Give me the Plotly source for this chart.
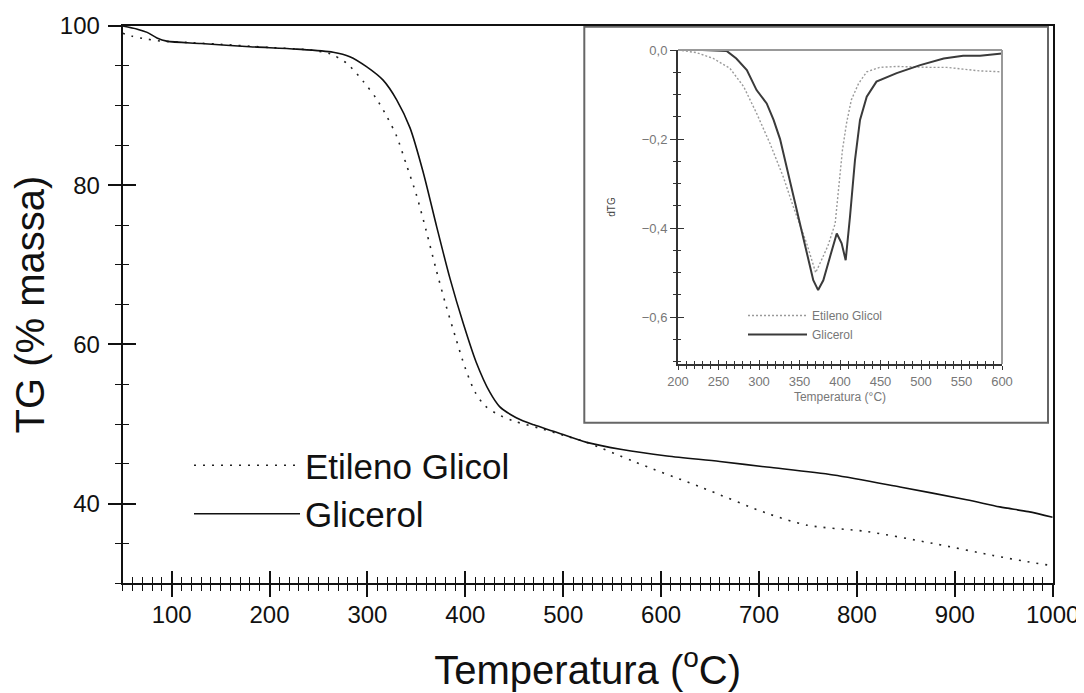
import plotly.graph_objects as go

# ---------------- data ----------------
# Main TG curves (temperature in °C, mass %)
gli_T = [50, 65, 75, 85, 95, 130, 180, 228, 265, 282, 299, 316, 330, 343.5, 357, 370.7,
         384.3, 398, 411, 425, 435, 452, 470, 490, 524, 560, 606, 660, 708, 776,
         844, 912, 946, 975, 1000]
gli_TG = [100.0, 99.6, 99.2, 98.5, 98.1, 97.8, 97.4, 97.1, 96.7, 96.15, 94.9, 93.2, 90.7,
          87.2, 81.6, 74.8, 68.3, 62.6, 57.8, 54.0, 52.2, 50.8, 49.9, 49.1, 47.7, 46.8,
          46.0, 45.3, 44.6, 43.6, 42.1, 40.5, 39.6, 39.0, 38.3]

eg_T = [50, 60, 70, 90, 120, 150, 200, 240, 262, 279, 296, 309, 320, 330, 340, 350, 360,
        370, 380, 390, 400, 410, 420, 432, 449, 475, 500, 524, 572, 640, 708, 749, 810,
        878, 939, 970, 1000]
eg_TG = [99.1, 98.7, 98.45, 98.1, 97.9, 97.7, 97.3, 97.0, 96.5, 95.3, 93.0, 90.9, 88.6,
         86.1, 82.5, 78.8, 74.3, 69.5, 65.0, 60.9, 57.0, 54.0, 52.3, 51.3, 50.4, 49.5,
         48.6, 47.7, 45.3, 42.1, 38.8, 37.3, 36.5, 35.0, 33.5, 32.8, 32.2]

# Inset dTG curves
ins_gli_T = [200, 230, 260, 272, 285, 297, 309.5, 318, 326, 334, 342.4, 350.6, 358.8, 367,
             373, 379.4, 387.7, 396, 402, 407, 412.3, 418.5, 424.7, 433, 445, 470, 499,
             528, 552, 573, 600]
ins_gli_d = [0, 0, -0.002, -0.019, -0.045, -0.09, -0.12, -0.157, -0.20, -0.262, -0.33,
             -0.39, -0.457, -0.517, -0.539, -0.517, -0.464, -0.412, -0.434, -0.472,
             -0.375, -0.247, -0.157, -0.105, -0.071, -0.052, -0.034, -0.019, -0.013,
             -0.013, -0.008]

ins_eg_T = [200, 223, 243.6, 264, 281, 297, 313.6, 330, 342.4, 358.8, 370, 385, 394, 398,
            403, 408, 414, 423, 433, 449, 470, 511, 532, 552, 573, 600]
ins_eg_d = [0, -0.006, -0.019, -0.041, -0.082, -0.142, -0.21, -0.285, -0.352, -0.434,
            -0.50, -0.44, -0.39, -0.315, -0.225, -0.165, -0.112, -0.075, -0.049, -0.039,
            -0.037, -0.039, -0.039, -0.043, -0.047, -0.049]

name_eg = "Etileno Glicol"
name_gli = "Glicerol"

FONT = "Liberation Sans, Arial, sans-serif"
OFF = 8                      # page body margin of the browser
W, H = 1084 - OFF, 693 - OFF

def fx(px):
    return (px - OFF) / W

def fy(py):
    return 1 - (py - OFF) / H

main_xdom = [fx(122.7), fx(1052.7)]
main_ydom = [fy(583.3), fy(26)]
ins_xdom = [fx(678), fx(1002)]
ins_ydom = [fy(364), fy(50)]

fig = go.Figure()

# main curves
fig.add_trace(go.Scatter(x=eg_T, y=eg_TG, mode="lines", name=name_eg,
                         line=dict(color="#222", width=1.6, dash="2px,7px", shape="spline", smoothing=0.8),
                         xaxis="x", yaxis="y", legend="legend"))
fig.add_trace(go.Scatter(x=gli_T, y=gli_TG, mode="lines", name=name_gli,
                         line=dict(color="#111", width=1.6, shape="spline", smoothing=0.8),
                         xaxis="x", yaxis="y", legend="legend"))

# inset curves
fig.add_trace(go.Scatter(x=ins_eg_T, y=ins_eg_d, mode="lines", name=name_eg,
                         line=dict(color="#9a9a9a", width=1.4, dash="2px,2px"),
                         xaxis="x2", yaxis="y2", legend="legend2"))
fig.add_trace(go.Scatter(x=ins_gli_T, y=ins_gli_d, mode="lines", name=name_gli,
                         line=dict(color="#3a3a3a", width=2),
                         xaxis="x2", yaxis="y2", legend="legend2"))

# empty traces so the overlay tick axes exist
fig.add_trace(go.Scatter(x=[], y=[], xaxis="x4", yaxis="y4", showlegend=False, hoverinfo="skip"))
fig.add_trace(go.Scatter(x=[], y=[], xaxis="x3", yaxis="y3", showlegend=False, hoverinfo="skip"))

axis_common = dict(showgrid=False, zeroline=False)

fig.update_layout(
    width=W, height=H,
    margin=dict(l=0, r=0, t=0, b=0),
    paper_bgcolor="white", plot_bgcolor="white",
    font=dict(family=FONT, color="#111"),
    separators=", ",
    xaxis=dict(domain=main_xdom, anchor="y", range=[50, 1000], **axis_common,
               showline=True, linecolor="#111", linewidth=2, mirror=True,
               ticks="outside", ticklen=12, tickwidth=1.5, tickcolor="#111",
               tick0=0, dtick=100, tickfont=dict(size=24, color="#111"), ticklabelstandoff=-3,
               minor=dict(ticks="outside", ticklen=6, tickwidth=1.2, tickcolor="#111", dtick=10, showgrid=False),
               title=dict(text="Temperatura (<sup>o</sup>C)", font=dict(size=40, color="#111"), standoff=29),
               automargin=False),
    yaxis=dict(domain=main_ydom, anchor="x", range=[30, 100], **axis_common,
               showline=True, linecolor="#111", linewidth=2, mirror=True,
               ticks="outside", ticklen=13, tickwidth=1.5, tickcolor="#111",
               tick0=0, dtick=20, tickfont=dict(size=24, color="#111"), ticklabelstandoff=3,
               minor=dict(ticks="outside", ticklen=6, tickwidth=1.2, tickcolor="#111", dtick=5, showgrid=False),
               title=dict(text="TG (% massa)", font=dict(size=40, color="#111"), standoff=4),
               automargin=False),
    xaxis4=dict(overlaying="x", anchor="y4", range=[50, 1000], **axis_common,
                showline=False, showticklabels=False,
                ticks="inside", ticklen=12, tickwidth=1.5, tickcolor="#111", tick0=0, dtick=100,
                minor=dict(ticks="inside", ticklen=6, tickwidth=1.2, tickcolor="#111", dtick=10, showgrid=False)),
    yaxis4=dict(overlaying="y", anchor="x4", range=[30, 100], **axis_common,
                showline=False, showticklabels=False,
                ticks="inside", ticklen=13, tickwidth=1.5, tickcolor="#111", tick0=0, dtick=20,
                minor=dict(ticks="inside", ticklen=6, tickwidth=1.2, tickcolor="#111", dtick=5, showgrid=False)),
    xaxis2=dict(domain=ins_xdom, anchor="y2", range=[200, 600], **axis_common,
                showline=True, linecolor="#333", linewidth=2,
                ticks="outside", ticklen=4, tickwidth=1.2, tickcolor="#333", tick0=0, dtick=50,
                minor=dict(ticks="outside", ticklen=3, tickwidth=1, tickcolor="#333", dtick=10, showgrid=False),
                tickfont=dict(size=13, color="#777"),
                title=dict(text="Temperatura (°C)", font=dict(size=12, color="#777"), standoff=5),
                automargin=False),
    yaxis2=dict(domain=ins_ydom, anchor="x2", range=[-0.705, 0.0], **axis_common,
                showline=True, linecolor="#333", linewidth=2,
                ticks="outside", ticklen=6, tickwidth=1.2, tickcolor="#333", tick0=0, dtick=0.2,
                tickformat=".1f",
                minor=dict(ticks="outside", ticklen=3, tickwidth=1, tickcolor="#333", dtick=0.05, showgrid=False),
                tickfont=dict(size=13, color="#777"),
                title=dict(text="dTG", font=dict(size=10, color="#444"), standoff=24),
                automargin=False),
    xaxis3=dict(overlaying="x2", anchor="y3", range=[200, 600], **axis_common,
                showline=False, showticklabels=False,
                ticks="inside", ticklen=4, tickwidth=1.2, tickcolor="#333", tick0=0, dtick=50,
                minor=dict(ticks="inside", ticklen=3, tickwidth=1, tickcolor="#333", dtick=10, showgrid=False)),
    yaxis3=dict(overlaying="y2", anchor="x3", range=[-0.705, 0.0], **axis_common,
                showline=False, showticklabels=False,
                ticks="inside", ticklen=6, tickwidth=1.2, tickcolor="#333", tick0=0, dtick=0.2,
                minor=dict(ticks="inside", ticklen=3, tickwidth=1, tickcolor="#333", dtick=0.05, showgrid=False)),
    legend=dict(x=fx(189), y=fy(436), xanchor="left", yanchor="top",
                bgcolor="rgba(0,0,0,0)", font=dict(size=35, color="#111"),
                itemwidth=106, tracegroupgap=0),
    legend2=dict(x=fx(743), y=fy(301), xanchor="left", yanchor="top",
                 bgcolor="rgba(0,0,0,0)", font=dict(size=12, color="#777"),
                 itemwidth=59, tracegroupgap=0),
    showlegend=True,
    shapes=[
        # inset frame
        dict(type="rect", xref="paper", yref="paper",
             x0=fx(584.3), x1=fx(1048), y0=fy(422.7), y1=fy(26.7),
             line=dict(color="#666", width=2), fillcolor="white", layer="below"),
        # inset plot box top / right (light gray)
        dict(type="line", xref="x2 domain", yref="y2 domain", x0=0, x1=1, y0=1, y1=1,
             line=dict(color="#999", width=2)),
        dict(type="line", xref="x2 domain", yref="y2 domain", x0=1, x1=1, y0=0, y1=1,
             line=dict(color="#999", width=2)),
    ],
)

fig.write_html("out.html")
